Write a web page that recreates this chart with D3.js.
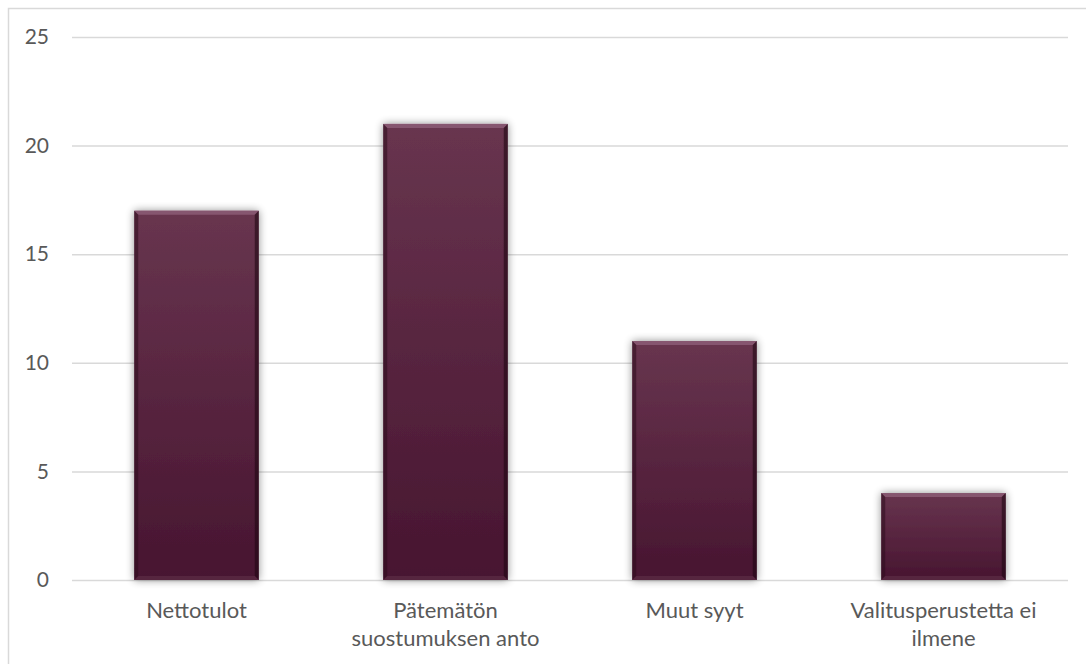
<!DOCTYPE html>
<html><head><meta charset="utf-8">
<script src="https://cdn.jsdelivr.net/npm/d3@7"></script>
<style>
html,body{margin:0;padding:0;background:#fff;}
svg{display:block;}
text{font-family:"Lato","Open Sans",sans-serif;}
</style></head>
<body>
<svg id="chart" width="1086" height="664"></svg>
<script>
const categories = ["Nettotulot", "Pätemätön suostumuksen anto", "Muut syyt", "Valitusperustetta ei ilmene"];
const labelLines = [["Nettotulot"], ["Pätemätön", "suostumuksen anto"], ["Muut syyt"], ["Valitusperustetta ei", "ilmene"]];
const values = [17, 21, 11, 4];
const yTicks = [0, 5, 10, 15, 20, 25];

const svg = d3.select("#chart");
const W = 1086, H = 664;
const m = {left: 72, right: 18, top: 37, bottom: 84};

svg.append("rect").attr("x", 8.5).attr("y", 8.5).attr("width", W).attr("height", H)
  .attr("fill", "#fff").attr("stroke", "#d9d9d9").attr("stroke-width", 1.5);

const defs = svg.append("defs");
const grad = defs.append("linearGradient").attr("id", "barGrad").attr("x1", 0).attr("y1", 0).attr("x2", 0).attr("y2", 1);
grad.append("stop").attr("offset", "0%").attr("stop-color", "#68354f");
grad.append("stop").attr("offset", "100%").attr("stop-color", "#471530");
const sh = defs.append("filter").attr("id", "shadow").attr("x", "-20%").attr("y", "-10%").attr("width", "140%").attr("height", "120%");
sh.append("feGaussianBlur").attr("in", "SourceAlpha").attr("stdDeviation", 4).attr("result", "b");
sh.append("feOffset").attr("in", "b").attr("dx", 0).attr("dy", 0).attr("result", "o");
sh.append("feComponentTransfer").attr("in", "o").attr("result", "o2")
  .append("feFuncA").attr("type", "linear").attr("slope", 0.45);
const mg = sh.append("feMerge");
mg.append("feMergeNode").attr("in", "o2");
mg.append("feMergeNode").attr("in", "SourceGraphic");

const x = d3.scaleBand().domain(categories).range([m.left, W - m.right]).paddingInner(0.5).paddingOuter(0.25);
const y = d3.scaleLinear().domain([0, 25]).range([H - m.bottom, m.top]);

// gridlines
const yAxis = d3.axisLeft(y).tickValues(yTicks).tickSize(-(W - m.right - m.left)).tickPadding(23);
const gy = svg.append("g").attr("transform", `translate(${m.left},0)`).call(yAxis);
gy.select(".domain").remove();
gy.selectAll(".tick line").attr("stroke", "#d9d9d9").attr("stroke-width", 1.5);
gy.selectAll(".tick text").attr("fill", "#595959").attr("font-size", 21).attr("font-family", "Lato, 'Open Sans', sans-serif");

// bars
const bars = svg.append("g").selectAll("g").data(values).join("g");
bars.append("rect")
  .attr("x", (d, i) => x(categories[i]))
  .attr("y", d => y(d))
  .attr("width", x.bandwidth())
  .attr("height", d => y(0) - y(d))
  .attr("fill", "url(#barGrad)")
  .attr("filter", "url(#shadow)");
// bevel highlights
const bv = 4;
bars.append("polygon")
  .attr("points", (d, i) => {
    const x0 = x(categories[i]), x1 = x0 + x.bandwidth(), y0 = y(d);
    return `${x0},${y0} ${x1},${y0} ${x1 - bv},${y0 + bv} ${x0 + bv},${y0 + bv}`;
  }).attr("fill", "#8a5a73").attr("opacity", 0.9);
bars.append("polygon")
  .attr("points", (d, i) => {
    const x0 = x(categories[i]), y0 = y(d), y1 = y(0);
    return `${x0},${y0} ${x0 + bv},${y0 + bv} ${x0 + bv},${y1 - bv} ${x0},${y1}`;
  }).attr("fill", "#2e0c1d").attr("opacity", 0.55);
bars.append("polygon")
  .attr("points", (d, i) => {
    const x1 = x(categories[i]) + x.bandwidth(), y0 = y(d), y1 = y(0);
    return `${x1},${y0} ${x1},${y1} ${x1 - bv},${y1 - bv} ${x1 - bv},${y0 + bv}`;
  }).attr("fill", "#1f0612").attr("opacity", 0.6);
bars.append("polygon")
  .attr("points", (d, i) => {
    const x0 = x(categories[i]), x1 = x0 + x.bandwidth(), y1 = y(0);
    return `${x0},${y1} ${x0 + bv},${y1 - bv} ${x1 - bv},${y1 - bv} ${x1},${y1}`;
  }).attr("fill", "#5a2a42").attr("opacity", 0.8);

// category labels
const xl = svg.append("g");
categories.forEach((c, i) => {
  const t = xl.append("text")
    .attr("x", x(c) + x.bandwidth() / 2)
    .attr("y", 618)
    .attr("text-anchor", "middle")
    .attr("fill", "#595959")
    .attr("font-size", 22);
  labelLines[i].forEach((ln, j) => {
    t.append("tspan").attr("x", x(c) + x.bandwidth() / 2).attr("dy", j === 0 ? 0 : 28).text(ln);
  });
});
</script>
</body></html>
